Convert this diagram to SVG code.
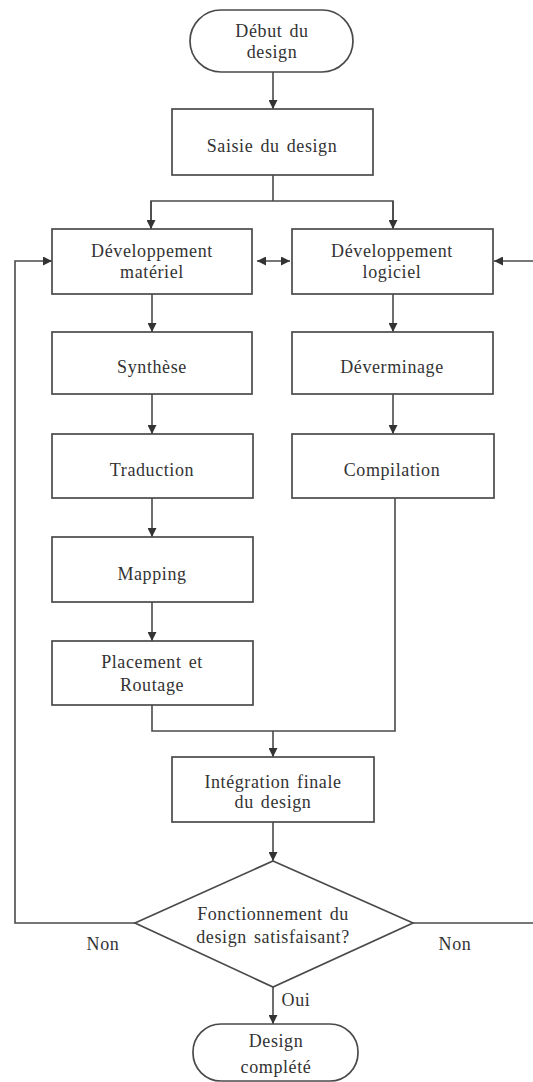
<svg xmlns="http://www.w3.org/2000/svg" width="533" height="1082" viewBox="0 0 533 1082">
  <defs>
    <marker id="arrow" viewBox="0 0 10 10" refX="10" refY="5" markerWidth="9" markerHeight="9" markerUnits="userSpaceOnUse" orient="auto">
      <path d="M0,0 L10,5 L0,10 Z" fill="#333"/>
    </marker>
    <marker id="arrowStart" viewBox="0 0 10 10" refX="0" refY="5" markerWidth="9" markerHeight="9" markerUnits="userSpaceOnUse" orient="auto">
      <path d="M10,0 L0,5 L10,10 Z" fill="#333"/>
    </marker>
    <style>
      .box { fill: #fff; stroke: #4a4a4a; stroke-width: 1.7; }
      .line { fill: none; stroke: #4a4a4a; stroke-width: 1.6; }
      text { font-family: "Liberation Serif", "Times New Roman", serif; font-size: 18px; fill: #333; text-anchor: middle; letter-spacing: 0.6px; word-spacing: 2px; }
    </style>
  </defs>
  <rect width="533" height="1082" fill="#fff"/>

  <!-- connectors -->
  <g id="connectors">
    <line class="line" x1="273" y1="72" x2="273" y2="109" marker-end="url(#arrow)"/>
    <polyline class="line" points="273,175 273,201"/>
    <polyline class="line" points="151,229 151,201 393,201 393,229"/>
    <line class="line" x1="151" y1="201" x2="151" y2="229" marker-end="url(#arrow)"/>
    <line class="line" x1="393" y1="201" x2="393" y2="229" marker-end="url(#arrow)"/>
    <line class="line" x1="257" y1="261" x2="290" y2="261" marker-start="url(#arrowStart)" marker-end="url(#arrow)"/>
    <line class="line" x1="152" y1="294" x2="152" y2="332" marker-end="url(#arrow)"/>
    <line class="line" x1="393" y1="294" x2="393" y2="332" marker-end="url(#arrow)"/>
    <line class="line" x1="152" y1="394" x2="152" y2="434" marker-end="url(#arrow)"/>
    <line class="line" x1="393" y1="394" x2="393" y2="434" marker-end="url(#arrow)"/>
    <line class="line" x1="152" y1="498" x2="152" y2="537" marker-end="url(#arrow)"/>
    <line class="line" x1="152" y1="602" x2="152" y2="641" marker-end="url(#arrow)"/>
    <polyline class="line" points="152,705 152,731 395,731 395,498"/>
    <line class="line" x1="273" y1="731" x2="273" y2="757" marker-end="url(#arrow)"/>
    <line class="line" x1="273" y1="822" x2="273" y2="861" marker-end="url(#arrow)"/>
    <line class="line" x1="273" y1="987" x2="273" y2="1024" marker-end="url(#arrow)"/>
    <!-- rework loops -->
    <polyline class="line" points="135,923 15,923 15,261 52,261" marker-end="url(#arrow)"/>
    <line class="line" x1="413" y1="923" x2="533" y2="923"/>
    <line class="line" x1="533" y1="261" x2="494" y2="261" marker-end="url(#arrow)"/>
  </g>

  <g id="debut">
    <rect class="box" x="190" y="10" width="163" height="62" rx="31" ry="31"/>
    <text x="272" y="37">Début du</text>
    <text x="272" y="58">design</text>
  </g>

  <g id="saisie">
    <rect class="box" x="172" y="109" width="201" height="66"/>
    <text x="272" y="152">Saisie du design</text>
  </g>

  <g id="dev-materiel">
    <rect class="box" x="52" y="229" width="200" height="65"/>
    <text x="152" y="257">Développement</text>
    <text x="152" y="278">matériel</text>
  </g>

  <g id="dev-logiciel">
    <rect class="box" x="292" y="229" width="201" height="65"/>
    <text x="392" y="257">Développement</text>
    <text x="392" y="278">logiciel</text>
  </g>

  <g id="synthese">
    <rect class="box" x="52" y="332" width="200" height="62"/>
    <text x="152" y="373">Synthèse</text>
  </g>

  <g id="deverminage">
    <rect class="box" x="292" y="332" width="201" height="62"/>
    <text x="392" y="373">Déverminage</text>
  </g>

  <g id="traduction">
    <rect class="box" x="52" y="434" width="201" height="64"/>
    <text x="152" y="476">Traduction</text>
  </g>

  <g id="compilation">
    <rect class="box" x="292" y="434" width="202" height="64"/>
    <text x="392" y="476">Compilation</text>
  </g>

  <g id="mapping">
    <rect class="box" x="52" y="537" width="201" height="65"/>
    <text x="152" y="580">Mapping</text>
  </g>

  <g id="placement">
    <rect class="box" x="52" y="641" width="201" height="64"/>
    <text x="152" y="668">Placement et</text>
    <text x="152" y="691">Routage</text>
  </g>

  <g id="integration">
    <rect class="box" x="172" y="757" width="202" height="65"/>
    <text x="273" y="788">Intégration finale</text>
    <text x="273" y="808">du design</text>
  </g>

  <g id="decision">
    <polygon class="box" points="273,861 413,923 273,987 135,923"/>
    <text x="273" y="920">Fonctionnement du</text>
    <text x="273" y="943">design satisfaisant?</text>
  </g>

  <g id="labels">
    <text x="103" y="950">Non</text>
    <text x="455" y="950">Non</text>
    <text x="296" y="1006">Oui</text>
  </g>

  <g id="fin">
    <rect class="box" x="193" y="1024" width="165" height="57" rx="28" ry="28"/>
    <text x="276" y="1047">Design</text>
    <text x="276" y="1073">complété</text>
  </g>
</svg>
